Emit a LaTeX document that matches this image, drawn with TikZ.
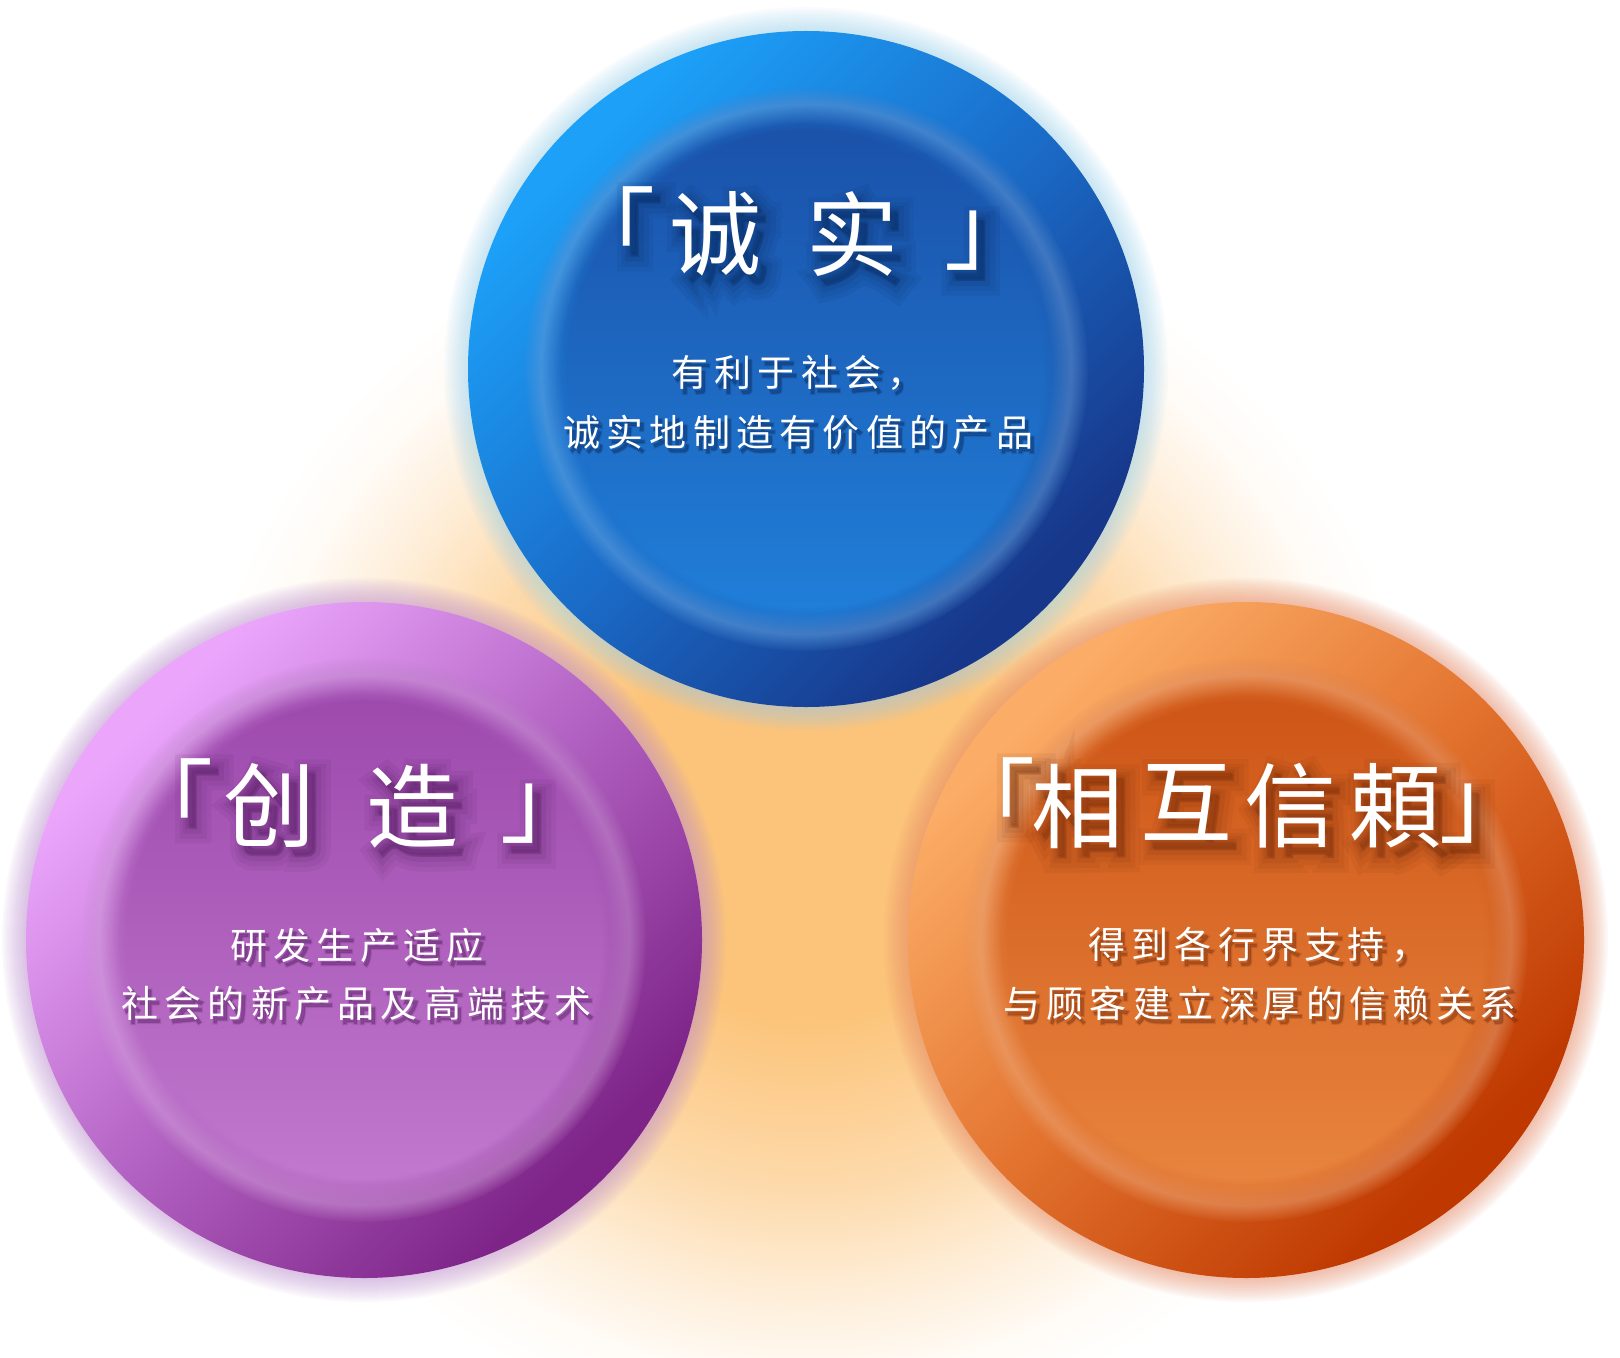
\documentclass[tikz,border=0pt]{standalone}
\usepackage{fontspec}
\newfontfamily\cjk{Noto Sans CJK SC}
\newfontfamily\cjksp{Noto Sans CJK SC}[LetterSpace=17]
\newfontfamily\cjkbA{Noto Sans CJK SC}[FakeBold=32]
\newfontfamily\cjkbB{Noto Sans CJK SC}[FakeBold=22]
\newfontfamily\cjkbC{Noto Sans CJK SC}[FakeBold=13]
\newfontfamily\cjkbD{Noto Sans CJK SC}[FakeBold=5]
\newfontfamily\cjkspb{Noto Sans CJK SC}[LetterSpace=17,FakeBold=8]
\newfontfamily\cjkspc{Noto Sans CJK SC}[LetterSpace=17,FakeBold=3]
\usetikzlibrary{fadings}

\definecolor{glowc}{HTML}{FCC47A}
\definecolor{bo1}{HTML}{1CA0F8}\definecolor{bo2}{HTML}{1A6CC8}\definecolor{bo3}{HTML}{17378A}
\definecolor{bi1}{HTML}{1A4EA6}\definecolor{bi2}{HTML}{1C6AC6}\definecolor{bi3}{HTML}{2182DC}
\definecolor{bh}{HTML}{9ED6F2}\definecolor{bsh}{HTML}{08224F}
\definecolor{po1}{HTML}{EBA6FC}\definecolor{po2}{HTML}{B262C2}\definecolor{po3}{HTML}{7E2488}
\definecolor{pi1}{HTML}{9A46AA}\definecolor{pi2}{HTML}{B062C0}\definecolor{pi3}{HTML}{C47CD0}
\definecolor{ph}{HTML}{C090D4}\definecolor{psh}{HTML}{4A1656}
\definecolor{oo1}{HTML}{FBAC66}\definecolor{oo2}{HTML}{E2722E}\definecolor{oo3}{HTML}{BE3800}
\definecolor{oi1}{HTML}{CC5214}\definecolor{oi2}{HTML}{DA6C2A}\definecolor{oi3}{HTML}{EA8842}
\definecolor{oh}{HTML}{E88A66}\definecolor{osh}{HTML}{6A2608}

% in TikZ the path's half size corresponds to 25bp of a shading
\pgfdeclareradialshading{glowshade}{\pgfpointorigin}{color(0bp)=(glowc); color(8bp)=(glowc); color(15bp)=(glowc!62!white); color(19bp)=(glowc!30!white); color(22.5bp)=(glowc!7!white); color(25bp)=(white); color(50bp)=(white)}
\pgfdeclareradialshading{softdiskshade}{\pgfpointorigin}{color(0bp)=(white); color(21bp)=(white); color(25bp)=(black); color(50bp)=(black)}
\pgfdeclarefading{softdisk}{\pgfuseshading{softdiskshade}}
\pgfdeclareradialshading{ringshade}{\pgfpointorigin}{color(0bp)=(black); color(21.6bp)=(black); color(23.4bp)=(white); color(25bp)=(black); color(50bp)=(black)}
\pgfdeclarefading{ringfade}{\pgfuseshading{ringshade}}
\pgfdeclareverticalshading{blueouter}{100bp}{color(0bp)=(bo3); color(27bp)=(bo3); color(50bp)=(bo2); color(73bp)=(bo1); color(100bp)=(bo1)}
\pgfdeclareverticalshading{purpleouter}{100bp}{color(0bp)=(po3); color(27bp)=(po3); color(50bp)=(po2); color(73bp)=(po1); color(100bp)=(po1)}
\pgfdeclareverticalshading{orangeouter}{100bp}{color(0bp)=(oo3); color(27bp)=(oo3); color(50bp)=(oo2); color(73bp)=(oo1); color(100bp)=(oo1)}

\tikzset{
  ttl/.style={font=\cjk\fontsize{92bp}{92bp}\selectfont, text=white, inner sep=0pt},
  tshA/.style={font=\cjkbA\fontsize{92bp}{92bp}\selectfont, inner sep=0pt, opacity=0.07},
  tshB/.style={font=\cjkbB\fontsize{92bp}{92bp}\selectfont, inner sep=0pt, opacity=0.08},
  tshC/.style={font=\cjkbC\fontsize{92bp}{92bp}\selectfont, inner sep=0pt, opacity=0.1},
  tshD/.style={font=\cjkbD\fontsize{92bp}{92bp}\selectfont, inner sep=0pt, opacity=0.13},
  sub/.style={font=\cjksp\fontsize{37bp}{37bp}\selectfont, text=white, inner sep=0pt, anchor=west},
  sshA/.style={font=\cjkspb\fontsize{37bp}{37bp}\selectfont, inner sep=0pt, anchor=west, opacity=0.14},
  sshB/.style={font=\cjkspc\fontsize{37bp}{37bp}\selectfont, inner sep=0pt, anchor=west, opacity=0.2},
}

% name, x, y, outer shading, inner top, inner mid, inner bottom, halo
\newcommand\myball[8]{%
  \coordinate (#1) at (#2,#3);
  \foreach \k in {1,...,12}{\fill[#8, opacity=0.055] (#1) circle[radius=338bp+\k*2bp];}
  \shade[shading=#4, shading angle=45] (#1) circle[radius=338bp];
  \shade[top color=#5, middle color=#6, bottom color=#7, path fading=softdisk] (#1) circle[radius=282bp];
  \fill[white, opacity=0.17, path fading=ringfade] (#1) circle[radius=282bp];
}
% name, x, y, char, shadow colour
\newcommand\tglyph[5]{%
  \node[tshA, text=#5] (#1sa) at (#2+9,#3+10) {#4};
  \node[tshB, text=#5] (#1sb) at (#2+9,#3+10) {#4};
  \node[tshC, text=#5] (#1sc) at (#2+8,#3+9) {#4};
  \node[tshD, text=#5] (#1sd) at (#2+7,#3+8) {#4};
  \node[ttl] (#1) at (#2,#3) {#4};
}
% name, x, y, text, shadow colour
\newcommand\sline[5]{%
  \node[sshA, text=#5] (#1sa) at (#2+3,#3+4) {#4};
  \node[sshB, text=#5] (#1sb) at (#2+3,#3+4) {#4};
  \node[sub] (#1) at (#2,#3) {#4};
}

\begin{document}
\begin{tikzpicture}[x=1bp, y=-1bp]
\fill[white] (0,0) rectangle (1620,1358);
\useasboundingbox (0,0) rectangle (1620,1358);

% background glow
\coordinate (gc) at (806,820);
\shade[shading=glowshade] (gc) circle[radius=620bp];

% circles
\myball{blue}{806}{369}{blueouter}{bi1}{bi2}{bi3}{bh}
\myball{purple}{364}{940}{purpleouter}{pi1}{pi2}{pi3}{ph}
\myball{orange}{1246}{940}{orangeouter}{oi1}{oi2}{oi3}{oh}

% blue texts
\tglyph{b1}{609}{226}{「}{bsh}
\tglyph{b2}{715}{234}{诚}{bsh}
\tglyph{b3}{852}{234}{实}{bsh}
\tglyph{b4}{990}{241}{」}{bsh}
\sline{bl1}{671}{373}{有利于社会，}{bsh}
\sline{bl2}{563}{432}{诚实地制造有价值的产品}{bsh}

% purple texts
\tglyph{p1}{167}{798}{「}{psh}
\tglyph{p2}{269}{805}{创}{psh}
\tglyph{p3}{412}{806}{造}{psh}
\tglyph{p4}{546}{814}{」}{psh}
\sline{pl1}{230}{945}{研发生产适应}{psh}
\sline{pl2}{121}{1003}{社会的新产品及高端技术}{psh}

% orange texts
\tglyph{o1}{989}{797}{「}{osh}
\tglyph{o2}{1077}{806}{相}{osh}
\tglyph{o3}{1186}{802}{互}{osh}
\tglyph{o4}{1290}{806}{信}{osh}
\tglyph{o5}{1395}{806}{頼}{osh}
\tglyph{o6}{1485}{814}{」}{osh}
\sline{ol1}{1088}{945}{得到各行界支持，}{osh}
\sline{ol2}{1003}{1003}{与顾客建立深厚的信赖关系}{osh}
\end{tikzpicture}
\end{document}
